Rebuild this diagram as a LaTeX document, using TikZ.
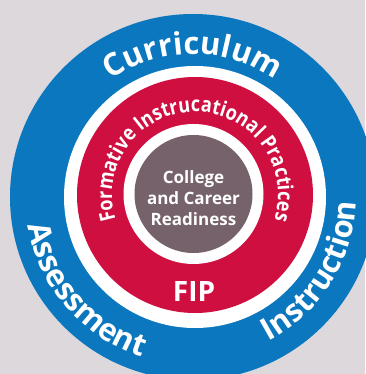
\documentclass[tikz,border=0pt]{standalone}
\usepackage{fontspec}
\setmainfont{Open Sans}
\newfontfamily\narrowsans[FakeStretch=0.86]{Open Sans}
\usetikzlibrary{decorations.text}
\definecolor{Backdrop}{HTML}{DCD8DC}
\definecolor{Blue}{HTML}{0A77BF}
\definecolor{Crimson}{HTML}{CF0F40}
\definecolor{Mauve}{HTML}{76626A}

\begin{document}
\begin{tikzpicture}[x=1pt,y=1pt,
    disc/.style={circle,inner sep=0pt,minimum size=#1},
    ringtext/.style={decorate,decoration={text along path,text align=center,
      text color=white,text={#1}}}
  ]
    \fill[Backdrop] (-193,-177) rectangle (172,197);
    \useasboundingbox (-193,-177) rectangle (172,197);
    % rings from outside in
    \node[disc=366pt,fill=Blue] (outer) at (0,0) {};
    \node[disc=262pt,fill=white] (gapout) at (2,0) {};
    \node[disc=236pt,fill=Crimson] (fipring) at (2,2) {};
    \node[disc=140pt,fill=white] (gapin) at (0.5,3) {};
    \node[disc=118pt,fill=Mauve] (core) at (0.5,3) {};
    % curved labels
    \path[ringtext={|\fontsize{31}{31}\selectfont\bfseries|Curriculum}]
      (outer.center) ++(160:143pt) arc[start angle=160,end angle=20,radius=143pt];
    \path[ringtext={|\fontsize{31}{31}\selectfont\bfseries|Assessment}]
      (outer.center) ++(165:168pt) arc[start angle=165,end angle=277,radius=168pt];
    \path[ringtext={|\fontsize{31}{31}\selectfont\bfseries|Instruction}]
      (outer.center) ++(272:163pt) arc[start angle=272,end angle=384,radius=163pt];
    \path[ringtext={|\narrowsans\fontsize{21}{21}\selectfont\bfseries|Formative Instrucational Practices}]
      (fipring.center) ++(220:83pt) arc[start angle=220,end angle=-40,radius=83pt];
    % straight labels
    \node[align=center,text=white,font=\fontsize{17}{21}\selectfont\bfseries]
      (readiness) at (0.5,-1) {College\\and Career\\Readiness};
    \node[text=white,font=\fontsize{28}{28}\selectfont\bfseries] (fip) at (1,-95) {FIP};
\end{tikzpicture}
\end{document}
